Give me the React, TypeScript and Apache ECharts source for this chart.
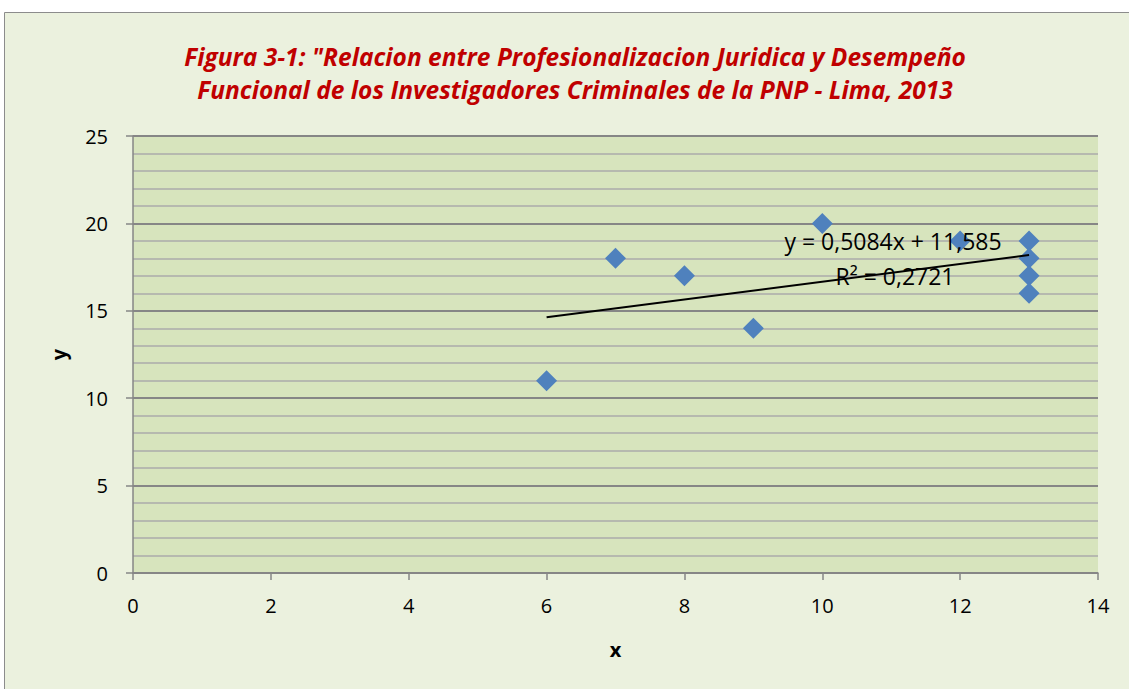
import React, { useEffect, useRef } from "react";
import * as echarts from "echarts";

const titleLines = [
  "Figura 3-1: \"Relacion entre Profesionalizacion Juridica y Desempeño",
  "Funcional de los Investigadores Criminales de la PNP - Lima, 2013",
];
const xValues = [6, 7, 8, 9, 10, 12, 13, 13, 13, 13];
const yValues = [11, 18, 17, 14, 20, 19, 19, 18, 17, 16];
const trendSlope = 0.5084;
const trendIntercept = 11.585;
const trendText = ["y = 0,5084x + 11,585", "R² = 0,2721"];
const xAxisName = "x";
const yAxisName = "y";

const FONT = "'Open Sans', 'Noto Sans', sans-serif";

export default function App() {
  const ref = useRef<HTMLDivElement>(null);
  useEffect(() => {
    if (!ref.current) return;
    const chart = echarts.init(ref.current, null, { renderer: "svg" });
    const points = xValues.map((x, i) => [x, yValues[i]]);
    const xMin = Math.min(...xValues);
    const xMax = Math.max(...xValues);
    const trend = [
      [xMin, trendSlope * xMin + trendIntercept],
      [xMax, trendSlope * xMax + trendIntercept],
    ];
    const titleY = [56, 89];
    chart.setOption({
      animation: false,
      backgroundColor: "#ffffff",
      graphic: [
        {
          type: "rect",
          z: -10,
          shape: { x: 4.5, y: 12.5, width: 1140, height: 700 },
          style: { fill: "#EBF1DE", stroke: "#8C8C8C", lineWidth: 1 },
        },
        ...titleLines.map((t, i) => ({
          type: "text",
          x: 575,
          y: titleY[i],
          style: {
            text: t,
            font: `italic bold 24.5px ${FONT}`,
            fill: "#C00000",
            align: "center",
            verticalAlign: "middle",
          },
        })),
        {
          type: "text",
          x: 893,
          y: 241,
          style: {
            text: trendText[0],
            font: `23px ${FONT}`,
            fill: "#000",
            align: "center",
            verticalAlign: "middle",
          },
          z: 100,
        },
        {
          type: "text",
          x: 895,
          y: 276,
          style: {
            text: trendText[1],
            font: `23px ${FONT}`,
            fill: "#000",
            align: "center",
            verticalAlign: "middle",
          },
          z: 100,
        },
      ],
      grid: {
        left: 133,
        top: 136,
        width: 965,
        height: 437,
        show: true,
        backgroundColor: "#D7E4BD",
        borderWidth: 0,
      },
      xAxis: {
        type: "value",
        min: 0,
        max: 14,
        interval: 2,
        name: xAxisName,
        nameLocation: "middle",
        nameGap: 66,
        nameTextStyle: { fontFamily: FONT, fontWeight: "bold", fontSize: 20, color: "#000" },
        axisLine: { show: true, lineStyle: { color: "#868686", width: 1.5 } },
        axisTick: { show: true, length: 7, lineStyle: { color: "#868686", width: 1.5 } },
        axisLabel: { fontFamily: FONT, fontSize: 20, color: "#000", margin: 22 },
        splitLine: { show: false },
      },
      yAxis: {
        type: "value",
        min: 0,
        max: 25,
        interval: 5,
        name: yAxisName,
        nameLocation: "middle",
        nameGap: 65,
        nameRotate: 90,
        nameTextStyle: { fontFamily: FONT, fontWeight: "bold", fontSize: 20, color: "#000" },
        axisLine: { show: true, lineStyle: { color: "#868686", width: 1.5 } },
        axisTick: { show: true, length: 7, lineStyle: { color: "#868686", width: 1.5 } },
        axisLabel: { fontFamily: FONT, fontSize: 20, color: "#000", margin: 25 },
        splitLine: { show: true, lineStyle: { color: "#868686", width: 2 } },
        minorTick: { show: false, splitNumber: 5 },
        minorSplitLine: { show: true, lineStyle: { color: "#ABABAB", width: 1.5 } },
      },
      series: [
        {
          type: "scatter",
          data: points,
          symbol: "diamond",
          symbolSize: 21,
          itemStyle: { color: "#4F81BD", opacity: 1 },
          z: 3,
        },
        {
          type: "line",
          data: trend,
          showSymbol: false,
          symbol: "none",
          lineStyle: { color: "#000", width: 2 },
          z: 4,
        },
      ],
    });
    return () => chart.dispose();
  }, []);
  return (
    <div
      ref={ref}
      style={{ position: "fixed", left: 0, top: 0, width: 1129, height: 689 }}
    />
  );
}
